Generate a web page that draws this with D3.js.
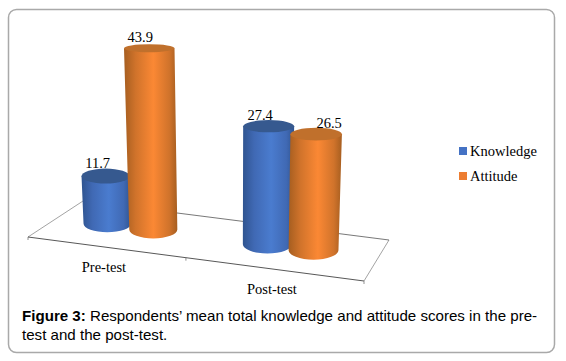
<!DOCTYPE html>
<html>
<head>
<meta charset="utf-8">
<script src="https://cdn.jsdelivr.net/npm/d3@7"></script>
<style>
  body { margin: 0; background: #fff; }
  text { font-family: "Liberation Serif", serif; font-size: 14.5px; fill: #000; }
  .caption { font-family: "Liberation Sans", Arial, sans-serif; font-size: 15.12px; }
</style>
</head>
<body>
<div id="chart"></div>
<script>
// data
const categories = ["Pre-test", "Post-test"];
const seriesNames = ["Knowledge", "Attitude"];
const knowledgeValues = [11.7, 27.4];
const attitudeValues = [43.9, 26.5];
const valueLabels = ["11.7", "43.9", "27.4", "26.5"];
const captionLines = ["Respondents\u2019 mean total knowledge and attitude scores in the pre-", "test and the post-test."];

// svg container
const svgWidth = 566;
const svgHeight = 361;

const svg = d3.select("#chart").append("svg")
    .attr("width", svgWidth)
    .attr("height", svgHeight)
    .style("display", "block");

const colors = {
    Knowledge: { edge: "#2f5490", near: "#4069b4", mid: "#4a7ccf", cap: "#36598f", swatch: "#4472c4" },
    Attitude: { edge: "#a65e20", near: "#d0732b", mid: "#fb8834", cap: "#c0702c", swatch: "#ed7d31" }
};

// gradients for the cylinder sides
const defs = svg.append("defs");
seriesNames.forEach(name => {
    const grad = defs.append("linearGradient").attr("id", "side-" + name);
    grad.append("stop").attr("offset", "0%").attr("stop-color", colors[name].edge);
    grad.append("stop").attr("offset", "22%").attr("stop-color", colors[name].near);
    grad.append("stop").attr("offset", "55%").attr("stop-color", colors[name].mid);
    grad.append("stop").attr("offset", "85%").attr("stop-color", colors[name].near);
    grad.append("stop").attr("offset", "100%").attr("stop-color", colors[name].edge);
});

// outer frame
svg.append("rect")
    .attr("x", 8.5).attr("y", 9.5)
    .attr("width", 546).attr("height", 343)
    .attr("rx", 8)
    .attr("fill", "#fff")
    .attr("stroke", "#a9a9a9")
    .attr("stroke-width", 1.5);

// floor corners on screen
const frontLeft = [28, 237], frontRight = [364, 281];
const backLeft = [83, 201], backRight = [389, 240];

// u runs along the front edge, v runs towards the back
function floor(u, v) {
    const front = d3.interpolateArray(frontLeft, frontRight)(u);
    const back = d3.interpolateArray(backLeft, backRight)(u);
    return d3.interpolateArray(front, back)(v);
}

// scales
const xGroup = d3.scalePoint().domain(categories).range([0.2255, 0.727]);
const xInner = d3.scalePoint().domain(seriesNames).range([-0.072, 0.072]);
const xLabel = d3.scalePoint().domain(categories).range([0.226, 0.726]);
const yValue = d3.scaleLinear().domain([0, 50]).range([0, 199]);
const depthGain = d3.scaleLinear().domain([0, 1]).range([1, 1.125]);
const radius = d3.scaleLinear().domain([0, 1]).range([23.5, 25.3]);
const capRy = d3.scaleLinear().domain([48, 229]).range([4, 8.9]);

const barDepth = 0.55;
const vanishX = 233;
const lean = 0.00028;

const bars = [];
categories.forEach((cat, i) => {
    seriesNames.forEach((name, j) => {
        const value = (j === 0 ? knowledgeValues : attitudeValues)[i];
        const u = xGroup(cat) + xInner(name);
        const [xb, yb] = floor(u, barDepth);
        const h = yValue(value) * depthGain(u);
        const grow = 1 + lean * h;
        bars.push({
            name, value, label: valueLabels[bars.length],
            xb, yb,
            rb: radius(u),
            xt: vanishX + (xb - vanishX) * grow,
            yt: yb - h,
            rt: radius(u) * grow
        });
    });
});

// floor outline
const floorGroup = svg.append("g").attr("fill", "none");
floorGroup.append("line")
    .attr("x1", frontLeft[0]).attr("y1", frontLeft[1])
    .attr("x2", backLeft[0]).attr("y2", backLeft[1])
    .attr("stroke", "#8c8c8c").attr("stroke-width", 0.8);
floorGroup.append("line")
    .attr("x1", frontRight[0]).attr("y1", frontRight[1])
    .attr("x2", backRight[0]).attr("y2", backRight[1])
    .attr("stroke", "#8c8c8c").attr("stroke-width", 0.8);
floorGroup.append("line")
    .attr("x1", backLeft[0]).attr("y1", backLeft[1])
    .attr("x2", backRight[0]).attr("y2", backRight[1])
    .attr("stroke", "#555").attr("stroke-width", 0.8);
floorGroup.append("line")
    .attr("x1", frontLeft[0]).attr("y1", frontLeft[1])
    .attr("x2", frontRight[0]).attr("y2", frontRight[1])
    .attr("stroke", "#444").attr("stroke-width", 0.9);

// little ticks on the front edge
floorGroup.selectAll(".tick")
    .data([0, 0.47, 1])
    .enter()
    .append("line")
    .attr("x1", d => floor(d, 0)[0])
    .attr("y1", d => floor(d, 0)[1])
    .attr("x2", d => floor(d, 0)[0])
    .attr("y2", d => floor(d, 0)[1] + 3)
    .attr("stroke", "#777").attr("stroke-width", 0.8);

// category labels under the front edge
svg.selectAll(".cat")
    .data(categories)
    .enter()
    .append("text")
    .attr("class", "cat")
    .attr("text-anchor", "middle")
    .attr("x", d => floor(xLabel(d), 0)[0])
    .attr("y", d => floor(xLabel(d), 0)[1] + 25)
    .text(d => d);

// cylinders
const bar = svg.selectAll(".bar")
    .data(bars)
    .enter()
    .append("g")
    .attr("class", "bar");

bar.append("path")
    .attr("fill", d => `url(#side-${d.name})`)
    .attr("d", d => {
        const ry = capRy(d.yb);
        return `M${d.xt - d.rt},${d.yt} L${d.xb - d.rb},${d.yb}
            A${d.rb},${ry} 0 0 0 ${d.xb + d.rb},${d.yb}
            L${d.xt + d.rt},${d.yt} Z`;
    });

bar.append("ellipse")
    .attr("cx", d => d.xt)
    .attr("cy", d => d.yt)
    .attr("rx", d => d.rt)
    .attr("ry", d => capRy(d.yt))
    .attr("fill", d => colors[d.name].cap);

// value labels
const labelNudge = [-8, -9, -8.5, 13];
const labelLift = [1, 2, 0, 0];
svg.selectAll(".value")
    .data(bars)
    .enter()
    .append("text")
    .attr("class", "value")
    .attr("text-anchor", "middle")
    .attr("x", (d, i) => d.xt + labelNudge[i])
    .attr("y", (d, i) => d.yt - capRy(d.yt) - labelLift[i])
    .text(d => d.label);

// legend
const legendY = d3.scalePoint().domain(seriesNames).range([147, 172]);
const legend = svg.selectAll(".legend")
    .data(seriesNames)
    .enter()
    .append("g")
    .attr("class", "legend")
    .attr("transform", d => `translate(459, ${legendY(d)})`);

legend.append("rect")
    .attr("width", 8).attr("height", 8)
    .attr("fill", d => colors[d].swatch);

legend.append("text")
    .attr("x", 11).attr("y", 8.5)
    .text(d => d);

// caption
const caption = svg.append("text")
    .attr("class", "caption")
    .attr("x", 22).attr("y", 321);
caption.append("tspan").attr("font-weight", "bold").text("Figure 3: ");
caption.append("tspan").text(captionLines[0]);
svg.append("text")
    .attr("class", "caption")
    .attr("x", 22).attr("y", 340)
    .text(captionLines[1]);
</script>
</body>
</html>
